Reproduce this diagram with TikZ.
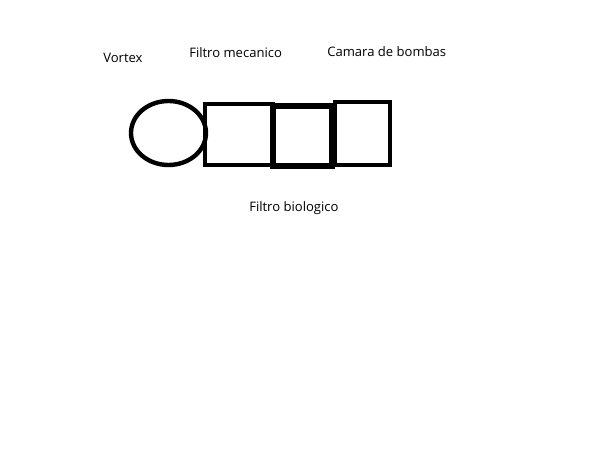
\documentclass[tikz,border=0pt]{standalone}
\usepackage{fontspec}
\setmainfont{Open Sans}
\usetikzlibrary{shapes.geometric}
\tikzset{
  tank/.style={draw, line width=3.3pt, inner sep=0pt},
  label/.style={anchor=base west, inner sep=0pt, font=\fontsize{9.8pt}{12pt}\selectfont}
}
\begin{document}
\begin{tikzpicture}[x=0.75pt, y=-0.75pt]
\useasboundingbox (0,0) rectangle (614,460);
\node[tank, ellipse, minimum width=56.25pt, minimum height=48pt] (vortex) at (168.5,133) {};
\node[tank, rectangle, minimum width=51pt, minimum height=45.75pt] (mecanico) at (239,134.5) {};
\node[tank, rectangle, line width=3.9pt, minimum width=44.25pt, minimum height=45pt] (biologico) at (302.5,136) {};
\node[tank, rectangle, minimum width=41.25pt, minimum height=47.25pt] (bombas) at (362.5,133.5) {};

\node[label] (lvortex) at (103,63) {Vortex};
\node[label] (lmecanico) at (189,58) {Filtro mecanico};
\node[label] (lbombas) at (327,57) {Camara de bombas};
\node[label] (lbiologico) at (249,211) {Filtro biologico};
\end{tikzpicture}
\end{document}
